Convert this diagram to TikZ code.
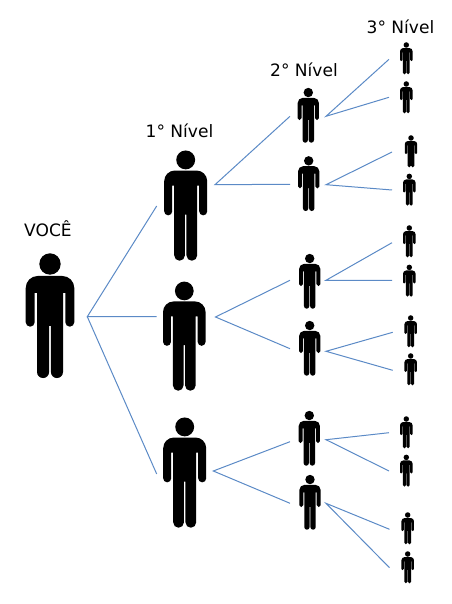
\documentclass[tikz,border=0pt]{standalone}
\usepackage{fontspec}
\usepackage{xcolor}
\setmainfont{DejaVu Sans}
\usetikzlibrary{positioning}
\definecolor{linkblue}{HTML}{5B8AC6}
\tikzset{
    person/.pic={
        \fill (0,114) circle[radius=10.7];
        \fill (-0.9,52) -- (-0.9,6) arc[start angle=0,end angle=-180,radius=6.05]
            -- (-13,85) -- (-15.3,85) -- (-15.3,55.8) arc[start angle=0,end angle=-180,radius=4.5]
            -- (-24.3,90) arc[start angle=180,end angle=90,radius=12]
            -- (12.3,102) arc[start angle=90,end angle=0,radius=12]
            -- (24.3,55.8) arc[start angle=0,end angle=-180,radius=4.5]
            -- (15.3,85) -- (13,85) -- (13,6) arc[start angle=0,end angle=-180,radius=6.05]
            -- (0.9,52) -- cycle;
    },
    link/.style={
        draw=linkblue,
        line width=0.75pt
    },
    levellabel/.style={
        inner sep=0pt,
        font=\fontsize{12.8}{15}\selectfont
    }
}
\begin{document}
\begin{tikzpicture}[x=0.75pt,y=0.75pt]
\useasboundingbox (0,0) rectangle (452,604);

% root and level 1
\pic at (50,226) {person};
\pic[scale=0.884] at (185.7,343.3) {person};
\pic[scale=0.875] at (184.3,213.3) {person};
\pic[scale=0.884] at (184.7,76.3) {person};

% level 2
\pic[scale=0.44] at (308.3,461.3) {person};
\pic[scale=0.44] at (308.7,393) {person};
\pic[scale=0.44] at (309.7,295.3) {person};
\pic[scale=0.44] at (309.7,228.3) {person};
\pic[scale=0.44] at (309.3,138.3) {person};
\pic[scale=0.44] at (310,74.3) {person};

% level 3
\pic[scale=0.257] at (406.3,529.7) {person};
\pic[scale=0.257] at (406.3,490.7) {person};
\pic[scale=0.257] at (411,436.7) {person};
\pic[scale=0.257] at (409.3,398.3) {person};
\pic[scale=0.257] at (409.3,346.7) {person};
\pic[scale=0.257] at (409.3,307.3) {person};
\pic[scale=0.257] at (410.7,256.7) {person};
\pic[scale=0.257] at (410.7,218.7) {person};
\pic[scale=0.257] at (406.3,155.7) {person};
\pic[scale=0.257] at (406.3,117.3) {person};
\pic[scale=0.257] at (407.7,59.7) {person};
\pic[scale=0.257] at (407.7,20.7) {person};

\node[levellabel] (voce) at (48,375.5) {VOCÊ};
\node[levellabel] (n1) at (179.5,473.5) {1° Nível};
\node[levellabel] (n2) at (304,534) {2° Nível};
\node[levellabel] (n3) at (400.5,577.5) {3° Nível};

% junctions
\coordinate (j0) at (87.3,287.3);
\coordinate (j1) at (215,419.3);
\coordinate (j2) at (215.5,287);
\coordinate (j3) at (213.3,133);
\coordinate (j4) at (326,487.7);
\coordinate (j5) at (326,419.3);
\coordinate (j6) at (326,323.7);
\coordinate (j7) at (326,252.7);
\coordinate (j8) at (326,164.3);
\coordinate (j9) at (326,100.7);

% free ends
\coordinate (a1) at (156.7,398);
\coordinate (a2) at (156.7,287.3);
\coordinate (a3) at (156.7,130);
\coordinate (b1) at (290,487.7);
\coordinate (b2) at (290,419.7);
\coordinate (b3) at (290,323.7);
\coordinate (b4) at (290,255.3);
\coordinate (b5) at (290,162.3);
\coordinate (b6) at (290,100.7);
\coordinate (c1) at (389,544.7);
\coordinate (c2) at (389,506.7);
\coordinate (c3) at (392,452);
\coordinate (c4) at (392,414);
\coordinate (c5) at (392,361.3);
\coordinate (c6) at (392,323.7);
\coordinate (c7) at (392.7,271.7);
\coordinate (c8) at (392.7,233.7);
\coordinate (c9) at (389,171.3);
\coordinate (c10) at (389,133);
\coordinate (c11) at (389.5,74.7);
\coordinate (c12) at (389.5,36.3);

\draw[link] (a1) -- (j0) -- (a2);
\draw[link] (j0) -- (a3);
\draw[link] (b1) -- (j1) -- (b2);
\draw[link] (b3) -- (j2) -- (b4);
\draw[link] (b5) -- (j3) -- (b6);
\draw[link] (c1) -- (j4) -- (c2);
\draw[link] (c3) -- (j5) -- (c4);
\draw[link] (c5) -- (j6) -- (c6);
\draw[link] (c7) -- (j7) -- (c8);
\draw[link] (c9) -- (j8) -- (c10);
\draw[link] (c11) -- (j9) -- (c12);

\end{tikzpicture}
\end{document}
